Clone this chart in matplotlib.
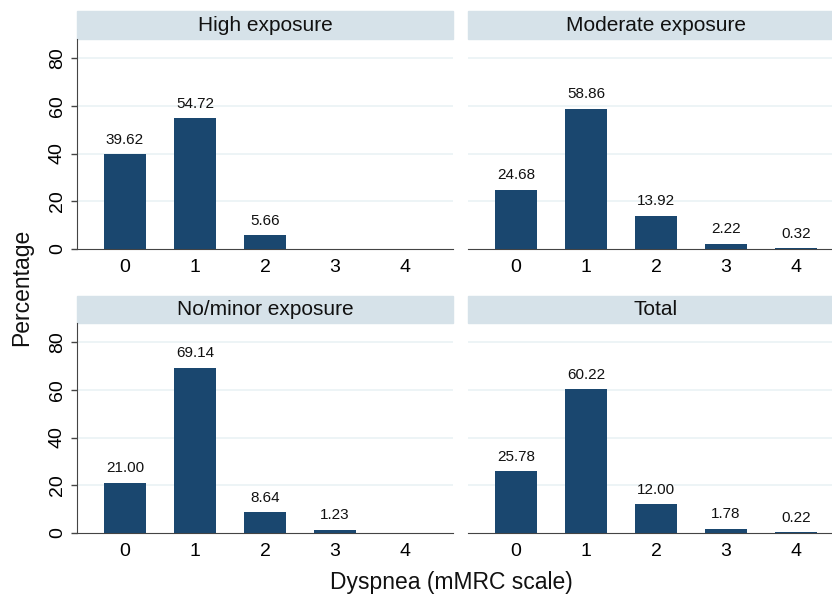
import matplotlib; matplotlib.use("Agg")
import matplotlib.pyplot as plt
from matplotlib.patches import Rectangle

plt.rcParams["font.family"] = ["Liberation Sans", "DejaVu Sans"]

levels = [0, 1, 2, 3, 4]
panels = ["High exposure", "Moderate exposure", "No/minor exposure", "Total"]
high = [39.62, 54.72, 5.66, 0.0, 0.0]
moderate = [24.68, 58.86, 13.92, 2.22, 0.32]
nominor = [21.00, 69.14, 8.64, 1.23, 0.0]
total = [25.78, 60.22, 12.00, 1.78, 0.22]
yticks = [0, 20, 40, 60, 80]

BAR = "#1a476f"
STRIP = "#d6e2e9"
GRID = "#eaf2f5"
AXC = "#444444"

W, H = 832, 598
fig = plt.figure(figsize=(W / 100, H / 100), dpi=100)

# pixel boxes: left, top, width, height (right column runs off the edge, as in the source)
boxes = [(77, 39, 376, 210), (468, 39, 376, 210),
         (77, 323, 376, 210), (468, 323, 376, 210)]
series = [high, moderate, nominor, total]

for k, (name, vals, (l, t, w, h)) in enumerate(zip(panels, series, boxes)):
    ax = fig.add_axes([l / W, 1 - (t + h) / H, w / W, h / H])
    ax.bar(levels, vals, width=0.6, color=BAR, zorder=3)
    for x, v in zip(levels, vals):
        if v > 0:
            ax.annotate(f"{v:.2f}", (x, v), xytext=(0, 5.5), textcoords="offset points",
                        ha="center", va="bottom", fontsize=11, color="#111111")
    ax.set_xlim(-0.686, 4.686)
    ax.set_ylim(0, 88)
    ax.set_yticks(yticks)
    for g in yticks[1:]:
        ax.axhline(g, color=GRID, lw=1.2, zorder=1)
    ax.set_xticks(levels)
    ax.tick_params(axis="x", length=0, pad=7, labelsize=14)
    ax.tick_params(axis="y", length=4, width=1, color=AXC, pad=4, labelsize=14,
                   labelrotation=90)
    for lab in ax.get_yticklabels():
        lab.set_va("center")
    for s in ["top", "right"]:
        ax.spines[s].set_visible(False)
    ax.spines["bottom"].set_color(AXC)
    ax.spines["left"].set_color(AXC)
    if k % 2 == 1:
        ax.spines["left"].set_visible(False)
        ax.tick_params(axis="y", left=False, labelleft=False)
    # strip header
    sh = 27.5 / h
    ax.add_patch(Rectangle((0, 1), 1, sh, transform=ax.transAxes, color=STRIP,
                           clip_on=False, zorder=0))
    ax.text(0.5, 1 + sh / 2, name, transform=ax.transAxes, ha="center", va="center",
            fontsize=15, color="#111111")

fig.text(22 / W, 1 - 287 / H, "Percentage", rotation=90, ha="center", va="center",
         fontsize=16.5, color="#111111")
fig.text(451 / W, 1 - 583 / H, "Dyspnea (mMRC scale)", ha="center", va="center",
         fontsize=16.5, color="#111111")

fig.savefig("out.png", dpi=100)
